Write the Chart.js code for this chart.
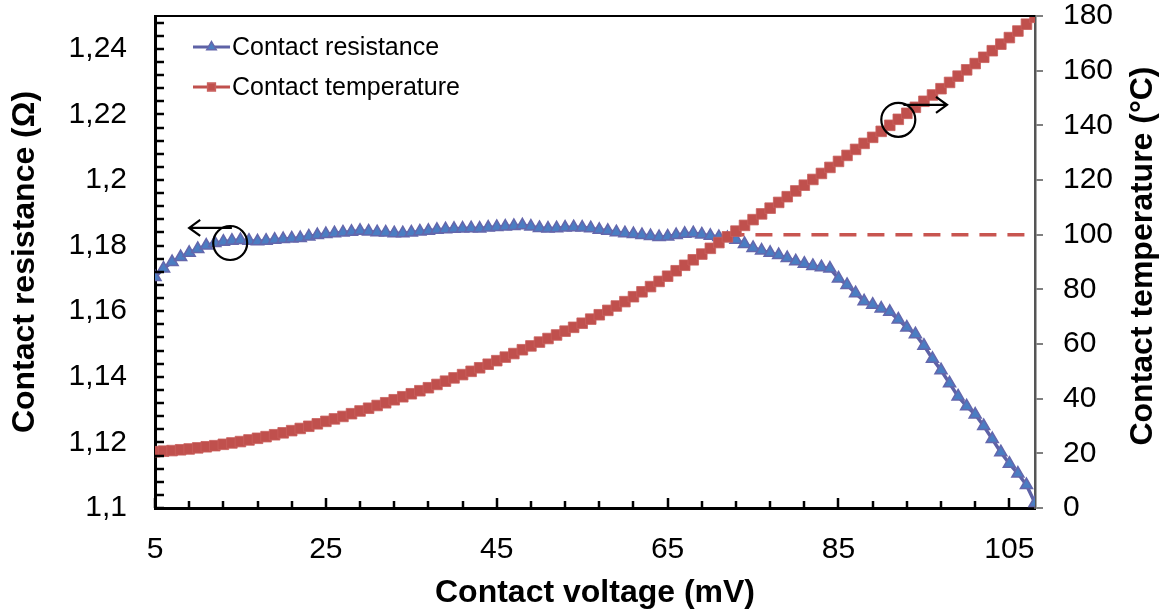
<!DOCTYPE html>
<html>
<head>
<meta charset="utf-8">
<script src="https://cdn.jsdelivr.net/npm/chart.js@4.4.0/dist/chart.umd.min.js"></script>
<style>
    html, body { margin: 0; padding: 0; background: #fff; }
</style>
</head>
<body>
<canvas id="chartContacto" width="1167" height="612"></canvas>
<script>
// Datos
const voltaje = [5, 6, 7, 8, 9, 10, 11, 12, 13, 14, 15, 16, 17, 18, 19, 20, 21, 22, 23, 24,
    25, 26, 27, 28, 29, 30, 31, 32, 33, 34, 35, 36, 37, 38, 39, 40, 41, 42, 43, 44,
    45, 46, 47, 48, 49, 50, 51, 52, 53, 54, 55, 56, 57, 58, 59, 60, 61, 62, 63, 64,
    65, 66, 67, 68, 69, 70, 71, 72, 73, 74, 75, 76, 77, 78, 79, 80, 81, 82, 83, 84,
    85, 86, 87, 88, 89, 90, 91, 92, 93, 94, 95, 96, 97, 98, 99, 100, 101, 102, 103, 104,
    105, 106, 107, 108];

const resistencia = [1.1704, 1.1730, 1.1750, 1.1765, 1.1778, 1.1790, 1.1800, 1.1808, 1.1812, 1.1815,
    1.1817, 1.1815, 1.1813, 1.1815, 1.1818, 1.1820, 1.1822, 1.1823, 1.1828, 1.1832,
    1.1835, 1.1838, 1.1840, 1.1842, 1.1845, 1.1843, 1.1841, 1.1840, 1.1838, 1.1838,
    1.1840, 1.1843, 1.1845, 1.1848, 1.1850, 1.1851, 1.1852, 1.1853, 1.1852, 1.1855,
    1.1857, 1.1858, 1.1860, 1.1862, 1.1858, 1.1854, 1.1852, 1.1853, 1.1855, 1.1856,
    1.1855, 1.1853, 1.1848, 1.1845, 1.1841, 1.1838, 1.1835, 1.1832, 1.1829, 1.1826,
    1.1828, 1.1832, 1.1836, 1.1838, 1.1834, 1.1830, 1.1826, 1.1823, 1.1818, 1.1805,
    1.1793, 1.1785, 1.1778, 1.1771, 1.1762, 1.1752, 1.1745, 1.1738, 1.1734, 1.1730,
    1.1700, 1.1680, 1.1655, 1.1630, 1.1620, 1.1608, 1.1598, 1.1575, 1.1550, 1.1530,
    1.1495, 1.1455, 1.1420, 1.1380, 1.1340, 1.1310, 1.1285, 1.1250, 1.1210, 1.1170,
    1.1135, 1.1105, 1.1070, 1.1015];

const temperatura = [20.6, 20.8, 21.0, 21.3, 21.6, 22.0, 22.4, 22.8, 23.3, 23.8,
    24.3, 24.9, 25.5, 26.1, 26.8, 27.5, 28.3, 29.1, 29.9, 30.8,
    31.7, 32.6, 33.5, 34.5, 35.5, 36.5, 37.5, 38.5, 39.6, 40.7,
    41.8, 42.9, 44.0, 45.2, 46.4, 47.6, 48.8, 50.0, 51.3, 52.6,
    53.9, 55.2, 56.5, 57.9, 59.3, 60.7, 62.0, 63.3, 64.7, 66.1,
    67.6, 69.1, 70.7, 72.3, 73.9, 75.5, 77.3, 79.1, 81.0, 82.9,
    84.8, 86.8, 88.8, 90.8, 92.9, 95.0, 97.1, 99.2, 101.3, 103.4,
    105.5, 107.6, 109.7, 111.8, 113.9, 116.0, 118.1, 120.2, 122.4, 124.6,
    126.8, 129.0, 131.2, 133.4, 135.6, 137.8, 140.0, 142.2, 144.4, 146.6,
    148.8, 151.1, 153.4, 155.7, 158.0, 160.3, 162.6, 164.9, 167.3, 169.7,
    172.1, 174.5, 177.0, 179.5];

// Linea de referencia de 100 °C
const limiteX = [72, 108];
const limiteY = [100, 100];

// Etiquetas de los ejes
const ticksVoltaje = [5, 25, 45, 65, 85, 105];
const ticksResistencia = [1.1, 1.12, 1.14, 1.16, 1.18, 1.2, 1.22, 1.24];
const ticksTemperatura = [0, 20, 40, 60, 80, 100, 120, 140, 160, 180];

const FUENTE = "'Liberation Sans', Arial, sans-serif";
const AZUL_LINEA = '#5e62a6';
const AZUL_PUNTO = '#4a7dc2';
const ROJO = '#c0504d';

function aPuntos(xs, ys) {
    return xs.map((x, i) => ({ x: x, y: ys[i] }));
}

// Quitar el margen extra que Chart.js reserva para las etiquetas de los extremos
function sinRelleno(s) {
    s.paddingTop = 0;
    s.paddingBottom = 0;
    s.paddingLeft = 0;
    s.paddingRight = 0;
}

// Plugin: ticks interiores, borde superior, leyenda, titulo derecho y anotaciones
const extras = {
    id: 'extras',
    afterDatasetsDraw(chart) {
        const ctx = chart.ctx;
        const ca = chart.chartArea;
        const sx = chart.scales.x;
        const sy = chart.scales.y;
        const sy1 = chart.scales.y1;
        ctx.save();
        ctx.strokeStyle = '#000';
        ctx.lineWidth = 2.5;
        // ticks del eje izquierdo
        for (let i = 0; i < 38; i++) {
            const py = Math.round(sy.getPixelForValue(1.1 + i * 0.004));
            ctx.beginPath();
            ctx.moveTo(ca.left, py);
            ctx.lineTo(ca.left + 9, py);
            ctx.stroke();
        }
        // ticks del eje inferior
        for (let v = 5; v <= 105; v += 4) {
            const px = Math.round(sx.getPixelForValue(v));
            const largo = ((v - 5) % 20 === 0) ? 10 : 7;
            ctx.beginPath();
            ctx.moveTo(px, ca.bottom);
            ctx.lineTo(px, ca.bottom - largo);
            ctx.stroke();
        }
        // borde superior
        ctx.lineWidth = 2;
        ctx.beginPath();
        ctx.moveTo(ca.left, ca.top);
        ctx.lineTo(ca.right, ca.top);
        ctx.stroke();

        // circulos y flechas
        ctx.lineWidth = 2.2;
        const circulos = [
            { x: sx.getPixelForValue(13.8), y: sy.getPixelForValue(1.1808) },
            { x: sx.getPixelForValue(92.0), y: sy1.getPixelForValue(142) }
        ];
        circulos.forEach(c => {
            ctx.beginPath();
            ctx.arc(c.x, c.y, 17, 0, Math.PI * 2);
            ctx.stroke();
        });
        const flechas = [
            { x0: sx.getPixelForValue(14.0), x1: sx.getPixelForValue(9.0), y: sy.getPixelForValue(1.1854) },
            { x0: sx.getPixelForValue(92.6), x1: sx.getPixelForValue(97.7), y: sy1.getPixelForValue(147.5) }
        ];
        flechas.forEach(f => {
            const dir = f.x1 > f.x0 ? 1 : -1;
            ctx.beginPath();
            ctx.moveTo(f.x0, f.y);
            ctx.lineTo(f.x1, f.y);
            ctx.moveTo(f.x1 - dir * 11, f.y - 8);
            ctx.lineTo(f.x1, f.y);
            ctx.lineTo(f.x1 - dir * 11, f.y + 8);
            ctx.stroke();
        });
        ctx.restore();
    },
    afterDraw(chart) {
        const ctx = chart.ctx;
        const ca = chart.chartArea;
        ctx.save();
        // leyenda
        const items = [chart.data.datasets[0], chart.data.datasets[1]];
        items.forEach((ds, i) => {
            const y = ca.top + 31 + i * 40;
            const x0 = ca.left + 38;
            const x1 = ca.left + 75;
            ctx.strokeStyle = ds.borderColor;
            ctx.lineWidth = 3;
            ctx.beginPath();
            ctx.moveTo(x0, y);
            ctx.lineTo(x1, y);
            ctx.stroke();
            ctx.fillStyle = ds.pointBackgroundColor;
            ctx.strokeStyle = ds.pointBorderColor;
            ctx.lineWidth = 1.5;
            Chart.helpers.drawPoint(ctx, {
                pointStyle: ds.pointStyle,
                radius: 5.5,
                rotation: 0,
                borderWidth: 1.5
            }, (x0 + x1) / 2, y);
            ctx.fillStyle = '#000';
            ctx.font = '25px ' + FUENTE;
            ctx.textAlign = 'left';
            ctx.textBaseline = 'middle';
            ctx.fillText(ds.label, x1 + 2, y + 1);
        });
        // titulo del eje derecho (lectura de abajo hacia arriba)
        ctx.translate(chart.width - 24, (ca.top + ca.bottom) / 2 - 6);
        ctx.rotate(-Math.PI / 2);
        ctx.font = 'bold 32px ' + FUENTE;
        ctx.fillStyle = '#000';
        ctx.textAlign = 'center';
        ctx.textBaseline = 'middle';
        ctx.fillText('Contact temperature (°C)', 0, 0);
        ctx.restore();
    }
};

function crearGrafico() {
    const ctx = document.getElementById('chartContacto').getContext('2d');
    new Chart(ctx, {
        type: 'line',
        data: {
            datasets: [
                {
                    label: 'Contact resistance',
                    data: aPuntos(voltaje, resistencia),
                    yAxisID: 'y',
                    borderColor: AZUL_LINEA,
                    borderWidth: 3.5,
                    pointStyle: 'triangle',
                    pointRadius: 7,
                    pointBackgroundColor: AZUL_PUNTO,
                    pointBorderColor: '#6467ac',
                    pointBorderWidth: 1.5,
                    order: 1
                },
                {
                    label: 'Contact temperature',
                    data: aPuntos(voltaje, temperatura),
                    yAxisID: 'y1',
                    borderColor: ROJO,
                    borderWidth: 3,
                    pointStyle: 'rect',
                    pointRadius: 7.5,
                    pointBackgroundColor: ROJO,
                    pointBorderColor: '#c9605d',
                    pointBorderWidth: 0.8,
                    order: 0
                },
                {
                    label: 'limite',
                    data: aPuntos(limiteX, limiteY),
                    yAxisID: 'y1',
                    borderColor: '#c85550',
                    borderWidth: 3.5,
                    borderDash: [17, 11],
                    pointRadius: 0,
                    order: 2
                }
            ]
        },
        options: {
            responsive: false,
            animation: false,
            devicePixelRatio: 1,
            layout: { padding: { top: 16, left: 0, right: 0, bottom: 0 } },
            plugins: {
                legend: { display: false },
                tooltip: { enabled: false }
            },
            scales: {
                x: {
                    type: 'linear',
                    min: 5,
                    max: 108,
                    afterBuildTicks: s => { s.ticks = ticksVoltaje.map(v => ({ value: v })); },
                    afterFit: s => { s.height = 104; sinRelleno(s); },
                    grid: { display: false, drawTicks: false },
                    border: { display: true, color: '#000', width: 3 },
                    ticks: { color: '#000', font: { family: FUENTE, size: 30 }, padding: 24, maxRotation: 0, autoSkip: false },
                    title: { display: true, text: 'Contact voltage (mV)', color: '#000', font: { family: FUENTE, size: 32, weight: 'bold' }, padding: 0 }
                },
                y: {
                    position: 'left',
                    min: 1.1,
                    max: 1.25,
                    afterBuildTicks: s => { s.ticks = ticksResistencia.map(v => ({ value: v })); },
                    afterFit: s => { s.width = 155; sinRelleno(s); },
                    grid: { display: false, drawTicks: false },
                    border: { display: true, color: '#000', width: 3 },
                    ticks: {
                        color: '#000',
                        font: { family: FUENTE, size: 30 },
                        padding: 28,
                        callback: v => String(v).replace('.', ',')
                    },
                    title: { display: true, text: 'Contact resistance (Ω)', color: '#000', font: { family: FUENTE, size: 32, weight: 'bold' }, padding: { top: 6, bottom: 0 } }
                },
                y1: {
                    position: 'right',
                    min: 0,
                    max: 180,
                    afterBuildTicks: s => { s.ticks = ticksTemperatura.map(v => ({ value: v })); },
                    afterFit: s => { s.width = 132; sinRelleno(s); },
                    grid: { drawOnChartArea: false, drawTicks: true, tickLength: 8, color: '#808080', lineWidth: 2 },
                    border: { display: true, color: '#555', width: 2.5 },
                    ticks: { color: '#000', font: { family: FUENTE, size: 30 }, padding: 20 }
                }
            }
        },
        plugins: [extras]
    });
}

crearGrafico();
</script>
</body>
</html>
